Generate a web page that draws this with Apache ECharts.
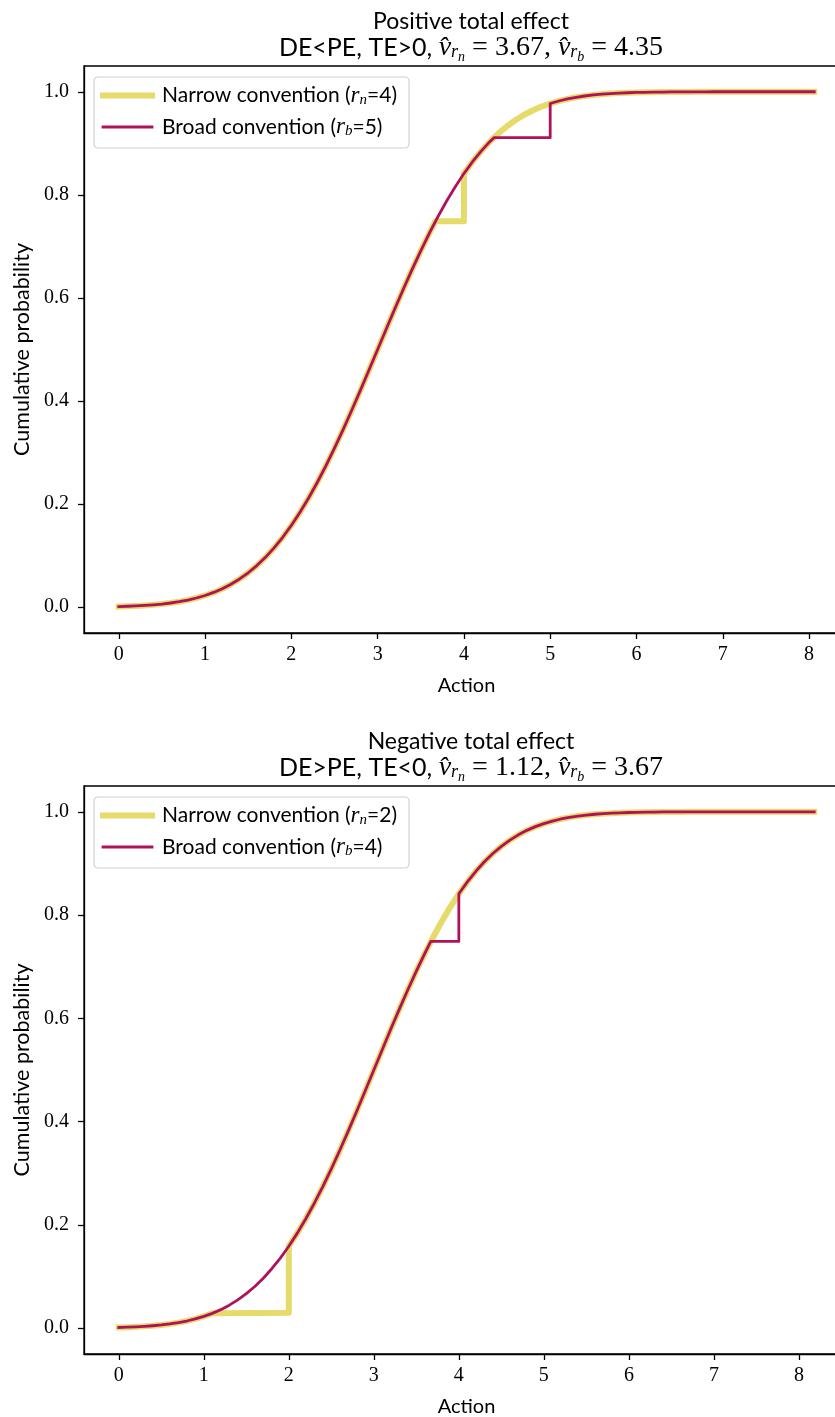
<!DOCTYPE html>
<html><head><meta charset="utf-8">
<script src="https://cdn.jsdelivr.net/npm/echarts@6/dist/echarts.min.js"></script>
<style>html,body{margin:0;padding:0;background:#fff}#c{width:835px;height:1417px}</style>
</head><body><div id="c"></div>
<script>
// ---- data ----
const actionGrid = [0.0,0.1,0.2,0.3,0.4,0.5,0.6,0.7,0.8,0.9,1.0,1.1,1.2,1.3,1.4,1.5,1.6,1.7,1.8,1.9,
  2.0,2.1,2.2,2.3,2.4,2.5,2.6,2.7,2.8,2.9,3.0,3.1,3.2,3.3,3.4,3.5,3.6,3.7,3.8,3.9,
  4.0,4.1,4.2,4.3,4.4,4.5,4.6,4.7,4.8,4.9,5.0,5.1,5.2,5.3,5.4,5.5,5.6,5.7,5.8,5.9,
  6.0,6.1,6.2,6.3,6.4,6.5,6.6,6.7,6.8,6.9,7.0,7.1,7.2,7.3,7.4,7.5,7.6,7.7,7.8,7.9,8.0];
const cdfValues = [0.0013,0.0019,0.0026,0.0035,0.0047,0.0062,0.0082,0.0107,0.0139,0.0179,
  0.0228,0.0287,0.0359,0.0446,0.0548,0.0668,0.0808,0.0968,0.1151,0.1357,
  0.1587,0.1841,0.2119,0.2420,0.2743,0.3085,0.3446,0.3821,0.4207,0.4602,
  0.5000,0.5398,0.5793,0.6179,0.6554,0.6915,0.7257,0.7580,0.7881,0.8159,
  0.8413,0.8643,0.8849,0.9032,0.9192,0.9332,0.9452,0.9554,0.9641,0.9713,
  0.9772,0.9821,0.9861,0.9893,0.9918,0.9938,0.9953,0.9965,0.9974,0.9981,
  0.9987,0.9990,0.9993,0.9995,0.9997,0.9998,0.9998,0.9999,0.9999,1.0000,
  1.0000,1.0000,1.0000,1.0000,1.0000,1.0000,1.0000,1.0000,1.0000,1.0000,1.0000];
const topLastPoint = [8.06, 1.0];
const bottomLastPoint = [8.18, 1.0];
// [step start action, step end action, flat level]
const topNarrowStep = [3.67, 4.0, 0.749];
const topBroadStep = [4.35, 5.0, 0.911];
const bottomNarrowStep = [1.12, 2.0, 0.030];
const bottomBroadStep = [3.67, 4.0, 0.749];
const xTicks = [0,1,2,3,4,5,6,7,8];
const yTicks = [0,0.2,0.4,0.6,0.8,1.0];
const yTickLabels = ['0.0','0.2','0.4','0.6','0.8','1.0'];
const topNames = ['Narrow convention (r_n=4)','Broad convention (r_b=5)'];
const bottomNames = ['Narrow convention (r_n=2)','Broad convention (r_b=4)'];

// ---- build ----
function buildLine(step, lastPoint){
  const pts=[]; let inserted=false;
  for(let i=0;i<actionGrid.length;i++){
    const x=actionGrid[i];
    if(x<step[0]){ pts.push([x,cdfValues[i]]); continue; }
    if(!inserted){ pts.push([step[0],step[2]]); pts.push([step[1],step[2]]); inserted=true; }
    if(x>=step[1]) pts.push([x,cdfValues[i]]);
  }
  pts.push(lastPoint.slice());
  return pts;
}
const SANS='Lato', SERIF='Liberation Serif';
const YEL='#e6da6b', RED='#b0125a';
const FS=21, TFS=23, T2FS=25;
function mkRich(fs, mathExtra){
  return {
    t:{fontFamily:SANS,fontSize:fs,color:'#000'},
    mi:{fontFamily:SERIF,fontStyle:'italic',fontSize:fs+mathExtra,color:'#000'},
    m:{fontFamily:SERIF,fontSize:fs+mathExtra,color:'#000'},
    sb:{fontFamily:SERIF,fontStyle:'italic',fontSize:Math.round(fs*0.72),color:'#000',padding:[9,0,0,0]},
    ssb:{fontFamily:SERIF,fontStyle:'italic',fontSize:Math.round(fs*0.55),color:'#000',padding:[18,0,0,0]}
  };
}
function legendFmt(name){
  const m = name.match(/^(.*)\((r)_(\w)=(\d)\)$/);
  return '{t|'+m[1]+'(}{mi|'+m[2]+'}{sb|'+m[3]+'}{t|='+m[4]+')}';
}
function subTitle(rel, a, b){
  return '{t|'+rel+', }{mi|v\u0302}{sb|r}{ssb|n}{m| = '+a+', }{mi|v\u0302}{sb|r}{ssb|b}{m| = '+b+'}';
}
const gridTops=[66,786];
function axesFor(i, xmin, xmax){
  return {
    x:{type:'value',gridIndex:i,min:xmin,max:xmax,
      axisLine:{show:true,onZero:false,lineStyle:{color:'#000',width:1.3}},
      axisTick:{show:true,customValues:xTicks,length:6,inside:false,lineStyle:{color:'#000',width:1.3}},
      axisLabel:{show:true,customValues:xTicks,margin:12,fontFamily:SERIF,fontSize:20,color:'#000'},
      splitLine:{show:false},
      name:'Action',nameLocation:'middle',nameGap:43,nameTextStyle:{fontFamily:SANS,fontSize:20,color:'#000'}},
    y:{type:'value',gridIndex:i,min:-0.05,max:1.05,
      axisLine:{show:true,onZero:false,lineStyle:{color:'#000',width:1.3}},
      axisTick:{show:true,customValues:yTicks,length:6,inside:false,lineStyle:{color:'#000',width:1.3}},
      axisLabel:{show:true,customValues:yTicks,margin:15,fontFamily:SERIF,fontSize:20,color:'#000',
        formatter:function(v){const k=yTicks.findIndex(t=>Math.abs(t-v)<1e-9);return k>=0?yTickLabels[k]:'';}},
      splitLine:{show:false},
      name:'Cumulative probability',nameLocation:'middle',nameGap:51,nameTextStyle:{fontFamily:SANS,fontSize:21.5,color:'#000'}}
  };
}
const a0=axesFor(0,-0.403,8.463), a1=axesFor(1,-0.409,8.589);
function lineSeries(name, data, color, width, idx){
  return {type:'line',name:name,data:data,xAxisIndex:idx,yAxisIndex:idx,showSymbol:false,symbol:'none',
    lineStyle:{color:color,width:width,cap:'square',join:'round'},itemStyle:{color:color},
    silent:true,animation:false,z:width>4?2:3};
}
function legendFor(i, names){
  return {data:names,left:94,top:gridTops[i]+11,orient:'vertical',selectedMode:false,
    itemWidth:49,itemHeight:20,itemGap:8,padding:[7,12,9,6],
    itemStyle:{opacity:0},lineStyle:{width:'inherit'},
    backgroundColor:'rgba(255,255,255,0.85)',borderColor:'#d0d0d0',borderWidth:1.2,borderRadius:4,
    formatter:legendFmt,textStyle:{fontFamily:SANS,fontSize:FS,color:'#000',rich:mkRich(FS,2),padding:[0,0,0,5]}};
}
const tStyle={fontFamily:SANS,fontSize:TFS,fontWeight:'normal',color:'#000'};
const t2Style={fontFamily:SANS,fontSize:T2FS,fontWeight:'normal',color:'#000',rich:mkRich(T2FS,3)};
const option={
  animation:false,
  backgroundColor:'#fff',
  title:[
    {text:'Positive total effect',left:466,top:5,textAlign:'center',textStyle:tStyle},
    {text:subTitle('DE<PE, TE>0','3.67','4.35'),left:466,top:27,textAlign:'center',textStyle:t2Style},
    {text:'Negative total effect',left:466,top:725,textAlign:'center',textStyle:tStyle},
    {text:subTitle('DE>PE, TE<0','1.12','3.67'),left:466,top:747,textAlign:'center',textStyle:t2Style}
  ],
  grid:[
    {left:84,top:gridTops[0],width:765,height:567,show:true,borderColor:'#000',borderWidth:1.3,backgroundColor:'transparent',outerBoundsMode:'none',containLabel:false},
    {left:84,top:gridTops[1],width:765,height:568,show:true,borderColor:'#000',borderWidth:1.3,backgroundColor:'transparent',outerBoundsMode:'none',containLabel:false}
  ],
  xAxis:[a0.x,a1.x],
  yAxis:[a0.y,a1.y],
  legend:[legendFor(0,topNames),legendFor(1,bottomNames)],
  series:[
    lineSeries(topNames[0],buildLine(topNarrowStep,topLastPoint),YEL,6,0),
    lineSeries(topNames[1],buildLine(topBroadStep,topLastPoint),RED,2.8,0),
    lineSeries(bottomNames[0],buildLine(bottomNarrowStep,bottomLastPoint),YEL,6,1),
    lineSeries(bottomNames[1],buildLine(bottomBroadStep,bottomLastPoint),RED,2.8,1)
  ]
};
const chart=echarts.init(document.getElementById('c'),null,{renderer:'canvas'});
chart.setOption(option);
</script></body></html>
